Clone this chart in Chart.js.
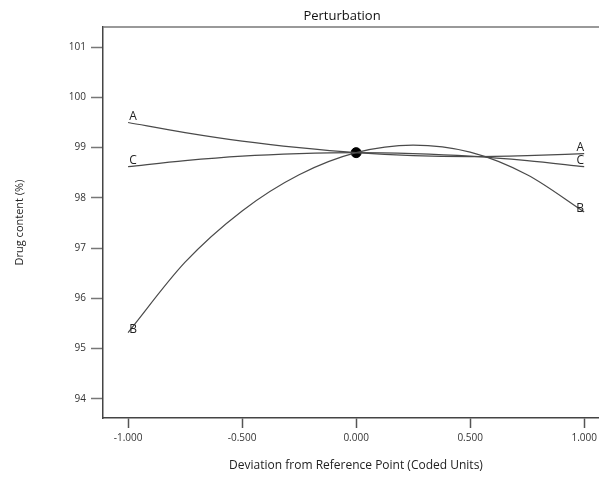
<!DOCTYPE html>
<html>
<head>
<meta charset="utf-8">
<script src="https://cdn.jsdelivr.net/npm/chart.js@4.4.1/dist/chart.umd.min.js"></script>
<style>
  html, body { margin: 0; padding: 0; background: #fff; overflow: hidden; width: 599px; height: 477px; }
  canvas { display: block; }
</style>
</head>
<body>
<canvas id="pertChart" width="612" height="477"></canvas>
<script>
// deviation from reference point (coded units)
const devX = [-1, -0.75, -0.5, -0.25, 0, 0.25, 0.5, 0.75, 1];
// drug content (%)
const factorA = [99.50, 99.30, 99.13, 99.00, 98.90, 98.84, 98.82, 98.84, 98.88];
const factorB = [95.32, 96.72, 97.74, 98.46, 98.90, 99.05, 98.91, 98.46, 97.72];
const factorC = [98.62, 98.74, 98.83, 98.88, 98.90, 98.88, 98.83, 98.74, 98.62];
const refPoint = [0, 98.9];
const xTicks = [-1, -0.5, 0, 0.5, 1];
const yTicks = [94, 95, 96, 97, 98, 99, 100, 101];
const seriesNames = ['A', 'B', 'C'];

const lineColor = '#4a4a4a';
const font = "'Open Sans', 'DejaVu Sans', sans-serif";

function toPoints(ys) {
    return devX.map((x, i) => ({ x: x, y: ys[i] }));
}

function lineSet(name, ys) {
    return {
        label: name,
        data: toPoints(ys),
        borderColor: lineColor,
        borderWidth: 1.2,
        pointRadius: 0,
        fill: false,
        cubicInterpolationMode: 'monotone'
    };
}

// letters at both ends of each curve, frame top, titles
const decorations = {
    id: 'decorations',
    afterDatasetsDraw(chart) {
        const { ctx, chartArea, scales: { x, y } } = chart;
        ctx.save();
        ctx.strokeStyle = '#777';
        ctx.lineWidth = 1.5;
        ctx.beginPath();
        ctx.moveTo(chartArea.left, chartArea.top);
        ctx.lineTo(chartArea.right, chartArea.top);
        ctx.stroke();

        ctx.fillStyle = '#222';
        ctx.font = '12px ' + font;
        ctx.textAlign = 'center';
        ctx.textBaseline = 'bottom';
        [factorA, factorB, factorC].forEach((ys, i) => {
            const last = ys.length - 1;
            const dy = seriesNames[i] === 'B' ? 3 : 0;
            ctx.fillText(seriesNames[i], x.getPixelForValue(devX[0]) + 5, y.getPixelForValue(ys[0]) + dy);
            ctx.fillText(seriesNames[i], x.getPixelForValue(devX[last]) - 4, y.getPixelForValue(ys[last]) + dy);
        });

        ctx.textBaseline = 'middle';
        ctx.fillText('Deviation from Reference Point (Coded Units)', 356, 466);
        ctx.font = '13px ' + font;
        ctx.fillStyle = '#111';
        ctx.fillText('Perturbation', 342, 16);
        ctx.restore();
    }
};

new Chart(document.getElementById('pertChart'), {
    type: 'line',
    data: {
        datasets: [
            lineSet('A', factorA),
            lineSet('B', factorB),
            lineSet('C', factorC),
            {
                label: 'ref',
                type: 'scatter',
                data: [{ x: refPoint[0], y: refPoint[1] }],
                pointRadius: 5,
                pointBackgroundColor: '#000',
                pointBorderColor: '#000',
                showLine: false
            }
        ]
    },
    options: {
        responsive: false,
        animation: false,
        devicePixelRatio: 1,
        layout: { autoPadding: false, padding: { top: 27, right: 0, left: 0, bottom: 0 } },
        plugins: {
            legend: { display: false },
            tooltip: { enabled: false },
            title: { display: false }
        },
        scales: {
            x: {
                type: 'linear',
                min: -1.11,
                max: 1.122,
                afterBuildTicks: scale => { scale.ticks = xTicks.map(v => ({ value: v })); },
                afterFit: scale => {
                    scale.height = 59;
                    scale.paddingLeft = 0;
                    scale.paddingRight = 0;
                },
                grid: { drawOnChartArea: false, tickLength: 10, color: '#555', tickWidth: 1.5 },
                border: { display: true, color: '#444', width: 1.5 },
                ticks: {
                    color: '#333',
                    padding: 4,
                    maxRotation: 0,
                    font: { family: font, size: 10 },
                    callback: v => v.toFixed(3)
                }
            },
            y: {
                min: 93.62,
                max: 101.4,
                afterBuildTicks: scale => { scale.ticks = yTicks.map(v => ({ value: v })); },
                afterFit: scale => {
                    scale.width = 103;
                    scale.paddingTop = 0;
                    scale.paddingBottom = 0;
                },
                grid: { drawOnChartArea: false, tickLength: 12, color: '#777', tickWidth: 1.5 },
                border: { display: true, color: '#444', width: 1.5 },
                ticks: {
                    color: '#333',
                    padding: 5,
                    font: { family: font, size: 10 }
                },
                title: {
                    display: true,
                    text: 'Drug content (%)',
                    color: '#222',
                    font: { family: "'Liberation Sans Narrow', " + font, size: 11 },
                    padding: { top: 13, bottom: 0 }
                }
            }
        }
    },
    plugins: [decorations]
});
</script>
</body>
</html>
